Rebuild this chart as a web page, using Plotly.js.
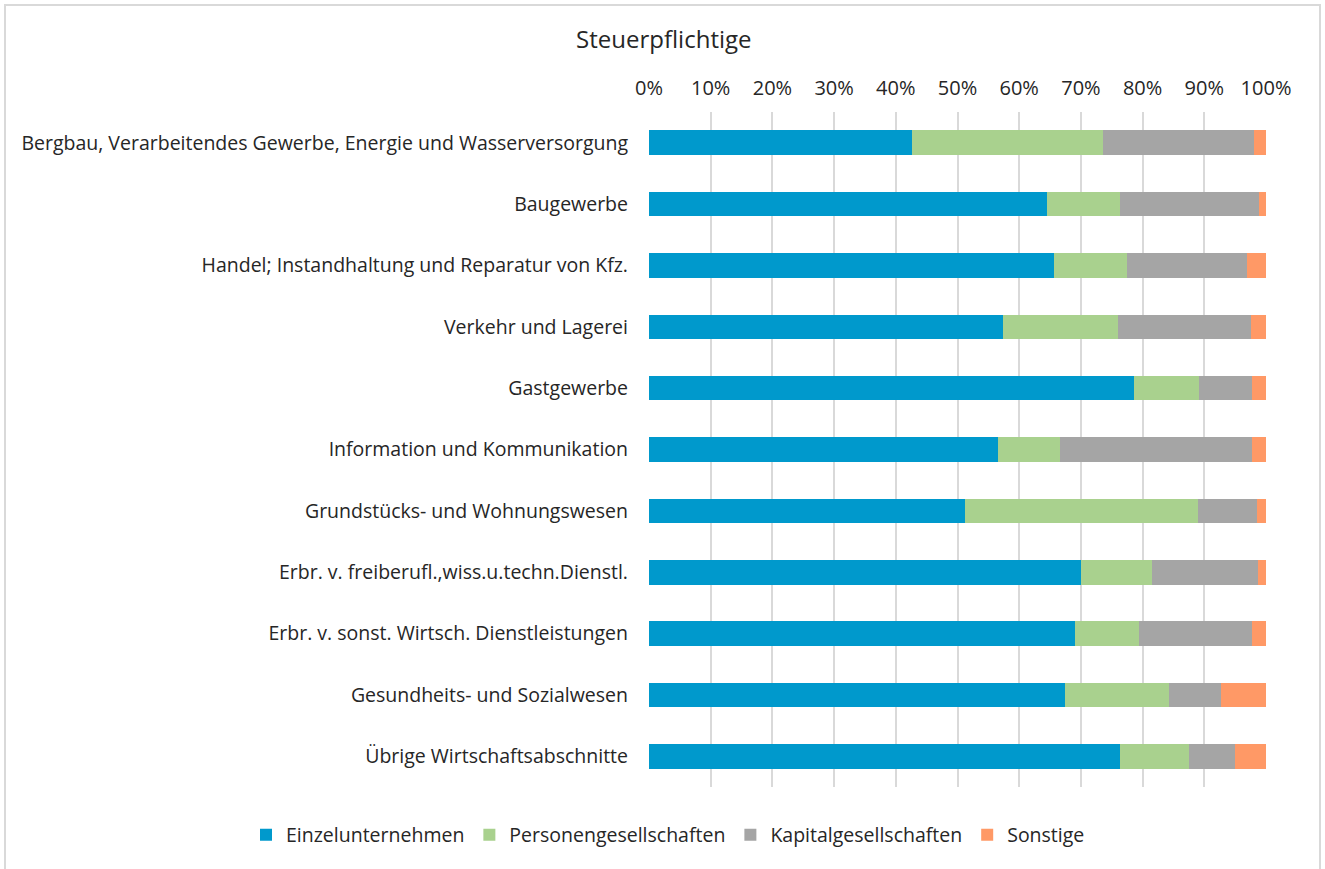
<!DOCTYPE html>
<html>
<head>
<meta charset="utf-8">
<script src="https://cdn.plot.ly/plotly-3.0.1.min.js"></script>
<style>
html,body{margin:0;padding:0;background:#fff;}
#wrap{position:relative;width:1325px;height:869px;}
#chart{position:absolute;left:0;top:0;width:1325px;height:869px;}
#frame{position:absolute;left:4px;top:4px;width:1317px;height:880px;border:2px solid #d9d9d9;box-sizing:border-box;pointer-events:none;}
</style>
</head>
<body>
<div id="wrap"><div id="chart"></div><div id="frame"></div></div>
<script>
const categories = [
  "Bergbau, Verarbeitendes Gewerbe, Energie und Wasserversorgung",
  "Baugewerbe",
  "Handel; Instandhaltung und Reparatur von Kfz.",
  "Verkehr und Lagerei",
  "Gastgewerbe",
  "Information und Kommunikation",
  "Grundstücks- und Wohnungswesen",
  "Erbr. v. freiberufl.,wiss.u.techn.Dienstl.",
  "Erbr. v. sonst. Wirtsch. Dienstleistungen",
  "Gesundheits- und Sozialwesen",
  "Übrige Wirtschaftsabschnitte"
];
const einzelunternehmen      = [42.6, 64.5, 65.7, 57.4, 78.6, 56.5, 51.2, 70.0, 69.1, 67.4, 76.4];
const personengesellschaften = [31.0, 11.8, 11.7, 18.6, 10.5, 10.1, 37.7, 11.6, 10.3, 16.9, 11.1];
const kapitalgesellschaften  = [24.5, 22.6, 19.6, 21.6,  8.6, 31.2,  9.7, 17.1, 18.3,  8.4,  7.4];
const sonstige               = [ 1.9,  1.1,  3.0,  2.4,  2.3,  2.2,  1.4,  1.3,  2.3,  7.3,  5.1];
const seriesNames = ["Einzelunternehmen","Personengesellschaften","Kapitalgesellschaften","Sonstige"];
const seriesColors = ["#0099cc","#a9d18e","#a5a5a5","#ff9966"];
const tickVals = [0,10,20,30,40,50,60,70,80,90,100];
const tickText = ["0%","10%","20%","30%","40%","50%","60%","70%","80%","90%","100%"];

const allSeries = [einzelunternehmen, personengesellschaften, kapitalgesellschaften, sonstige];
const traces = allSeries.map((vals, i) => ({
  type: "bar",
  orientation: "h",
  name: seriesNames[i],
  x: vals,
  y: categories,
  marker: {color: seriesColors[i], line: {width: 0}},
  hoverinfo: "name+x"
}));

const fam = "Open Sans, Noto Sans, sans-serif";
const txtColor = "#262626";

const layout = {
  width: 1325,
  height: 869,
  barmode: "stack",
  bargap: 0.6,
  paper_bgcolor: "#ffffff",
  plot_bgcolor: "#ffffff",
  font: {family: fam, size: 19, color: txtColor},
  margin: {l: 649, r: 59, t: 112, b: 82, pad: 0, autoexpand: false},
  title: {
    text: "Steuerpflichtige",
    xref: "container", x: 0.501, xanchor: "center",
    yref: "container", y: 1 - 40/869, yanchor: "middle",
    font: {family: fam, size: 24, color: txtColor}
  },
  xaxis: {
    side: "top",
    range: [0, 100],
    tickvals: tickVals,
    ticktext: tickText,
    showgrid: true,
    gridcolor: "#d9d9d9",
    gridwidth: 2,
    zeroline: false,
    showline: false,
    ticks: "",
    ticklabelstandoff: 12,
    tickfont: {family: fam, size: 20, color: txtColor},
    fixedrange: true
  },
  yaxis: {
    autorange: "reversed",
    type: "category",
    showgrid: false,
    zeroline: false,
    showline: false,
    ticks: "",
    ticklabelstandoff: 20,
    tickfont: {family: fam, size: 19.5, color: txtColor},
    fixedrange: true
  },
  legend: {
    orientation: "h",
    xref: "paper", x: (246 - 649) / 617, xanchor: "left",
    yref: "paper", y: -(835 - 787) / 675, yanchor: "middle",
    font: {family: fam, size: 19.5, color: txtColor},
    itemwidth: 30,
    traceorder: "normal"
  },
  showlegend: true
};

Plotly.newPlot("chart", traces, layout, {displayModeBar: false});
</script>
</body>
</html>
